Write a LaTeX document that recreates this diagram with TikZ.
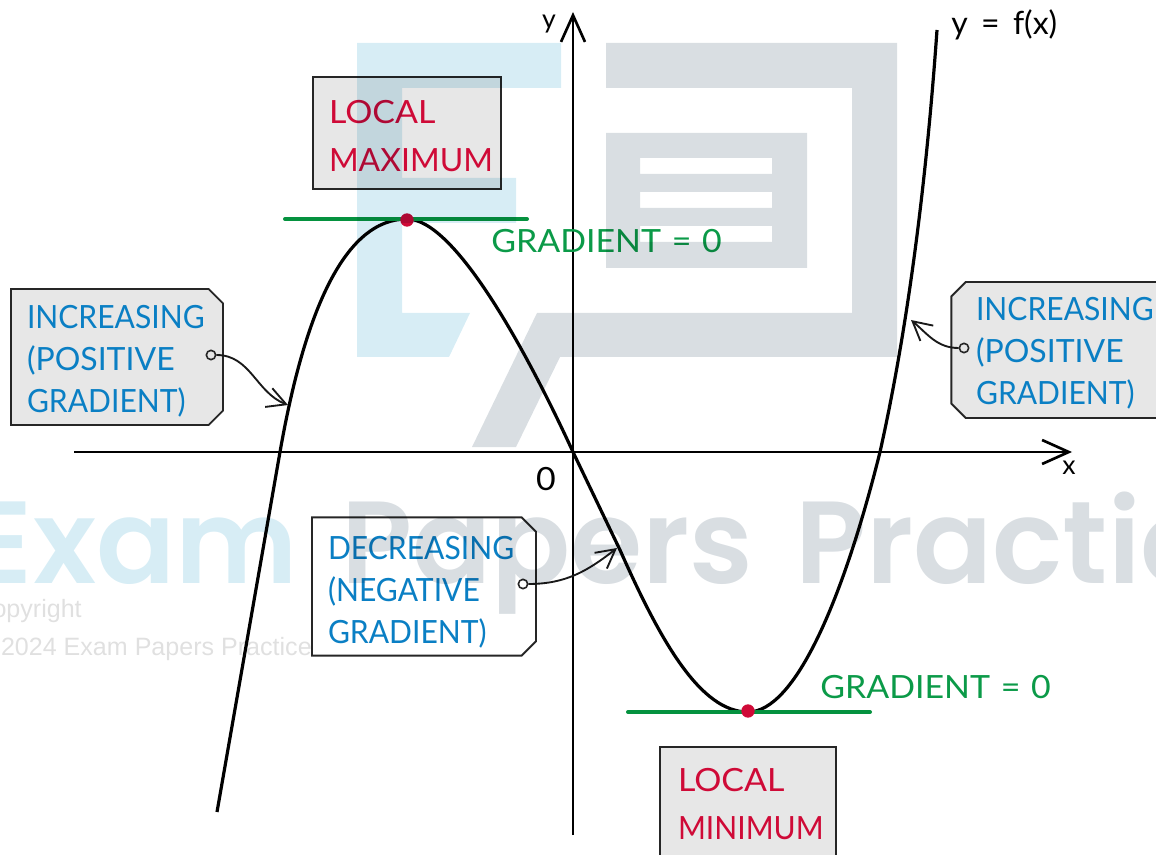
\documentclass[tikz,border=0pt]{standalone}
\usepackage{fontspec}
\setmainfont{Lato}
\newfontfamily\tagfont[FakeStretch=0.94]{Lato}
\newfontfamily\widefont[FakeStretch=1.06]{Lato}
\newfontfamily\markfont{Poppins SemiBold}
\newfontfamily\copyfont{Liberation Sans}
\usetikzlibrary{arrows.meta,shapes.misc}

\definecolor{textblue}{HTML}{0A7FC4}
\definecolor{textgreen}{HTML}{0B9A48}
\definecolor{textred}{HTML}{CF0A37}
\definecolor{linegreen}{HTML}{05923F}
\definecolor{boxgrey}{HTML}{E7E7E7}
\definecolor{markblue}{HTML}{D7EDF5}
\definecolor{markgrey}{HTML}{D9DEE2}
\definecolor{copygrey}{HTML}{E0E0E0}

% pushes the lines of a box down by half of what it adds above them
\newcommand{\topgap}[1]{\rule{0pt}{#1}}

\begin{document}
\begin{tikzpicture}[x=0.75pt,y=-0.75pt,
  tag node/.style={chamfered rectangle,chamfered rectangle xsep=5.4pt,chamfered rectangle ysep=5.4pt,
    draw=black!85,line width=1.4pt,minimum height=102pt,inner sep=0pt,
    font=\fontsize{24}{31.5}\selectfont\tagfont,text=textblue,align=left},
  name box/.style={rectangle,draw=black!85,fill=boxgrey,line width=1.4pt,minimum height=84pt,
    inner sep=0pt,font=\fontsize{24}{36}\selectfont,text=textred,align=left},
  grad label/.style={anchor=base west,inner sep=0pt,font=\fontsize{24}{30}\selectfont\widefont,text=textgreen},
  axis label/.style={inner sep=0pt,font=\fontsize{20}{24}\selectfont},
  ring node/.style={circle,draw=black!85,line width=1.2pt,minimum size=7pt,inner sep=0pt},
  tan line/.style={line width=3pt,color=linegreen,line cap=round},
  red dot/.style={circle,fill=textred,minimum size=10pt,inner sep=0pt},
  pointer/.style={-{Straight Barb[length=14pt,width=15pt]},line width=1.4pt,black!90},
  axis/.style={-{Straight Barb[length=20pt,width=18pt]},line width=2pt,black}]

  \useasboundingbox (0,0) rectangle (1156,855);
  \clip (0,0) rectangle (1156,855);

  \coordinate (xstart) at (74,452);
  \coordinate (xend) at (1072,452);
  \coordinate (ystart) at (573,835);
  \coordinate (yend) at (573,12);
  \draw[axis] (xstart) -- (xend);
  \draw[axis] (ystart) -- (yend);

  \node[axis label] (ylab) at (549,24) {y};
  \node[axis label] (xlab) at (1069,468) {x};
  \node[inner sep=0pt,font=\fontsize{24}{30}\selectfont\widefont] (origin) at (546,479) {0};
  \node[anchor=base west,inner sep=0pt,font=\fontsize{24}{30}\selectfont] (curvelab) at (951,35) {y\hspace{10pt}=\hspace{10pt}f(x)};

  \draw[line width=2.4pt,line join=round] (217,812) -- (280,452)
    .. controls (305,310) and (345,219) .. (407,219)
    .. controls (455,219) and (527,352) .. (573,452)
    -- (620,550)
    .. controls (660,640) and (700,712) .. (748,712)
    .. controls (795,712) and (843,600) .. (880,452)
    .. controls (905,340) and (925,200) .. (937,30);

  \coordinate (maxa) at (285,219);
  \coordinate (maxb) at (527,219);
  \coordinate (mina) at (628,712);
  \coordinate (minb) at (870,712);
  \draw[tan line] (maxa) -- (maxb);
  \draw[tan line] (mina) -- (minb);
  \node[red dot] (maxdot) at (407,220) {};
  \node[red dot] (mindot) at (748,711) {};

  \node[name box,minimum width=141pt,text width=117pt] (maxbox) at (407,133) {\topgap{22pt}{\widefont LOCAL}\\MAXIMUM};
  \node[name box,minimum width=132pt,text width=105pt] (minbox) at (748,803) {\topgap{19pt}{\widefont LOCAL}\\{\tagfont MINIMUM}};

  \node[grad label] (gradmax) at (491,253) {GRADIENT\hspace{8pt}=\hspace{8pt}0};
  \node[grad label] (gradmin) at (820,698) {GRADIENT\hspace{8pt}=\hspace{8pt}0};

  \node[tag node,fill=boxgrey,minimum width=159pt,text width=135pt,
    chamfered rectangle corners={north east,south east}] (incleft) at (117,357) {\topgap{23.3pt}INCREASING\\{\rmfamily (POSITIVE}\\GRADIENT)};
  \node[tag node,fill=boxgrey,minimum width=160pt,text width=123pt,
    chamfered rectangle corners={north west,south west}] (incright) at (1058,350) {\topgap{22pt}INCREASING\\{\rmfamily (POSITIVE}\\GRADIENT)};
  \node[tag node,fill=white,minimum width=168pt,text width=144pt,
    chamfered rectangle corners={north east,south east}] (dec) at (424,586.5) {\topgap{26.3pt}DECREASING\\(NEGATIVE\\GRADIENT)};

  \node[ring node] (ringa) at (211,355) {};
  \node[ring node] (ringb) at (964,348) {};
  \node[ring node] (ringc) at (523,584) {};
  \coordinate (tipa) at (288,405);
  \coordinate (tipb) at (911,320);
  \coordinate (tipc) at (617,548);
  \draw[pointer] (ringa) to[out=0,in=159] (tipa);
  \draw[pointer] (ringb) to[out=180,in=-40] (tipb);
  \draw[pointer] (ringc) to[out=0,in=218] (tipc);

  \begin{scope}[blend mode=multiply]
    \fill[markblue] (357,43) -- (561,43) -- (561,88) -- (402,88) -- (402,178) -- (516,178) -- (516,223)
      -- (402,223) -- (402,313) -- (470,313) -- (449,357) -- (357,357) -- cycle;
    \fill[markgrey] (606,43) -- (897,43) -- (897,357) -- (560,357) -- (516,447) -- (472,447) -- (537,313)
      -- (852,313) -- (852,88) -- (606,88) -- cycle;
    \fill[markgrey,even odd rule] (606,133) rectangle (807,268)
      (640,158) rectangle (772,174) (640,192) rectangle (772,208) (640,226) rectangle (772,242);
    \node[anchor=base east,inner sep=0pt,text=markblue,font=\markfont\fontsize{87.6}{90}\selectfont] (markexam) at (298,583) {Exam};
    \node[anchor=base west,inner sep=0pt,text=markgrey,font=\markfont\fontsize{87.6}{90}\selectfont] (markpapers) at (341,583) {Papers};
    \node[anchor=base west,inner sep=0pt,text=markgrey,font=\markfont\fontsize{87.6}{90}\selectfont] (markpractice) at (795,583) {Practice};
    \node[anchor=base east,inner sep=0pt,text=copygrey,font=\copyfont\fontsize{18.8}{20}\selectfont] (copya) at (82,617) {Copyright};
    \node[anchor=base east,inner sep=0pt,text=copygrey,font=\copyfont\fontsize{18.8}{20}\selectfont] (copyb) at (312,655) {© 2024 Exam Papers Practice};
  \end{scope}

\end{tikzpicture}
\end{document}
